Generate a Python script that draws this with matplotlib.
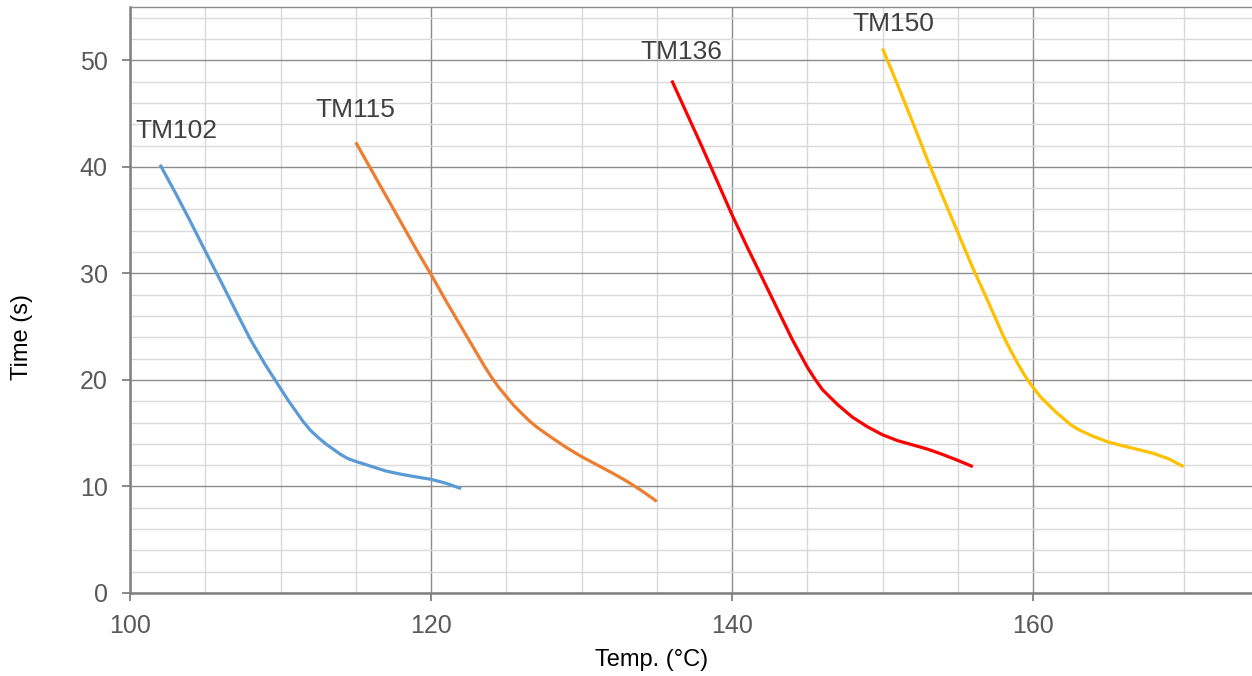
import matplotlib
matplotlib.use("Agg")
import matplotlib.pyplot as plt
from matplotlib.ticker import MultipleLocator

plt.rcParams['font.family'] = ['Liberation Sans', 'DejaVu Sans']

# Data
t102 = [102, 103, 104, 105, 106, 107, 108, 108.5, 109, 109.5, 110, 110.5, 111, 111.5, 112, 112.5,
        113, 113.5, 114, 114.5, 115, 116, 117, 118, 119, 120, 121, 122]
y102 = [40.2, 37.6, 34.9, 32.1, 29.35, 26.55, 23.8, 22.6, 21.4, 20.3, 19.2, 18.1, 17.1, 16.1, 15.25, 14.6,
        14.0, 13.5, 13.0, 12.6, 12.35, 11.9, 11.45, 11.15, 10.9, 10.67, 10.3, 9.8]

t115 = [115, 116, 117, 118, 119, 120, 121, 122, 122.5, 123, 123.5, 124, 124.5, 125, 125.5, 126, 126.5,
        127, 127.5, 128, 129, 130, 131, 132, 133, 134, 135]
y115 = [42.3, 39.8, 37.3, 34.8, 32.3, 29.9, 27.4, 25.0, 23.8, 22.6, 21.4, 20.3, 19.3, 18.45, 17.6, 16.9, 16.2,
        15.6, 15.1, 14.6, 13.65, 12.8, 12.05, 11.3, 10.5, 9.6, 8.6]

t136 = [136, 137, 138, 139, 140, 141, 142, 143, 144, 144.5, 145, 145.5, 146, 146.5, 147, 147.5, 148,
        149, 150, 151, 152, 153, 154, 155, 156]
y136 = [48.1, 45.0, 41.9, 38.7, 35.5, 32.5, 29.6, 26.7, 23.8, 22.5, 21.2, 20.1, 19.1, 18.4, 17.7, 17.1, 16.5,
        15.6, 14.85, 14.3, 13.9, 13.5, 13.0, 12.45, 11.86]

t150 = [150, 151, 152, 153, 154, 155, 156, 157, 157.5, 158, 158.5, 159, 159.5, 160, 160.5, 161, 161.5,
        162, 162.5, 163, 164, 165, 166, 167, 168, 169, 170]
y150 = [51.1, 47.7, 44.2, 40.6, 37.2, 33.85, 30.5, 27.4, 25.8, 24.2, 22.8, 21.5, 20.3, 19.3, 18.4, 17.7, 17.0,
        16.4, 15.8, 15.35, 14.7, 14.17, 13.8, 13.46, 13.1, 12.6, 11.86]

names = ["TM102", "TM115", "TM136", "TM150"]
label_pos = [(103.05, 43.4), (114.95, 45.35), (136.6, 50.8), (150.7, 53.4)]
colors = ["#5B9BD5", "#ED7D31", "#FF0000", "#FFC000"]

W, H = 1252, 676
fig = plt.figure(figsize=(W / 100, H / 100), dpi=100)
left, right, top, bottom = 130, 1252, 7, 593
ax = fig.add_axes([left / W, 1 - bottom / H, (right - left) / W, (bottom - top) / H])

ax.set_xlim(100, 174.55)
ax.set_ylim(0, 55)

ax.xaxis.set_major_locator(MultipleLocator(20))
ax.xaxis.set_minor_locator(MultipleLocator(5))
ax.yaxis.set_major_locator(MultipleLocator(10))
ax.yaxis.set_minor_locator(MultipleLocator(2))

ax.grid(which='minor', color='#d9d9d9', linewidth=1.0)
ax.grid(which='major', color='#8c8c8c', linewidth=1.0)
ax.set_axisbelow(True)

for s in ['left', 'bottom']:
    ax.spines[s].set_color('#808080')
    ax.spines[s].set_linewidth(1.8)
ax.spines['top'].set_color('#8c8c8c')
ax.spines['top'].set_linewidth(1.0)
ax.spines['right'].set_visible(False)

ax.tick_params(which='major', direction='out', length=6, width=1.3, color='#808080',
               labelsize=18, labelcolor='#595959')
ax.tick_params(axis='y', pad=10)
ax.tick_params(axis='x', pad=9)
ax.tick_params(which='minor', length=0)

series = [(t102, y102), (t115, y115), (t136, y136), (t150, y150)]
for (xs, ys), c in zip(series, colors):
    ax.plot(xs, ys, color=c, linewidth=2.3, solid_capstyle='butt', solid_joinstyle='round')

for name, (lx, ly) in zip(names, label_pos):
    ax.text(lx, ly, name, fontsize=19, color='#404040', ha='center', va='center')

fig.text(652 / W, 1 - 660 / H, "Temp. (°C)", fontsize=17, color='black', ha='center', va='center')
fig.text(22 / W, 1 - 337 / H, "Time (s)", fontsize=17, color='black', ha='center', va='center',
         rotation=90)

fig.savefig("out.png", dpi=100)
